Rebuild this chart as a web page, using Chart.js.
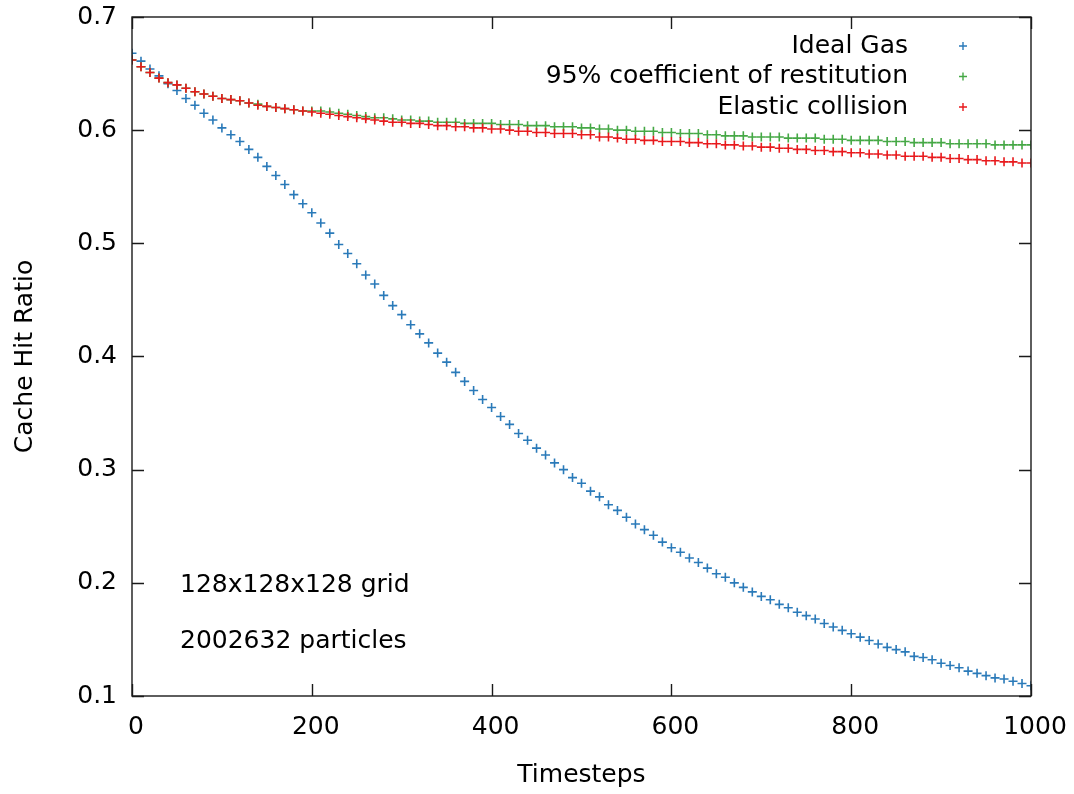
<!DOCTYPE html>
<html><head><meta charset="utf-8">
<script src="https://cdn.jsdelivr.net/npm/chart.js@4.4.1/dist/chart.umd.min.js"></script>
<style>html,body{margin:0;padding:0;background:#fff}#wrap{width:1074px;height:794px}</style>
</head><body><div id="wrap"><canvas id="c" width="1074" height="794"></canvas></div>
<script>
const timesteps = [
  0,10,20,30,40,50,60,70,80,90,
  100,110,120,130,140,150,160,170,180,190,
  200,210,220,230,240,250,260,270,280,290,
  300,310,320,330,340,350,360,370,380,390,
  400,410,420,430,440,450,460,470,480,490,
  500,510,520,530,540,550,560,570,580,590,
  600,610,620,630,640,650,660,670,680,690,
  700,710,720,730,740,750,760,770,780,790,
  800,810,820,830,840,850,860,870,880,890,
  900,910,920,930,940,950,960,970,980,990,
  1000];
const idealGas = [
  0.668,0.661,0.654,0.648,0.641,0.635,0.628,0.622,0.615,0.609,
  0.602,0.596,0.590,0.583,0.576,0.568,0.560,0.552,0.543,0.535,
  0.527,0.518,0.509,0.499,0.491,0.482,0.472,0.464,0.454,0.445,
  0.437,0.428,0.420,0.412,0.403,0.395,0.386,0.378,0.370,0.362,
  0.355,0.347,0.340,0.332,0.326,0.319,0.313,0.306,0.300,0.293,
  0.288,0.281,0.276,0.269,0.264,0.258,0.252,0.247,0.242,0.236,
  0.231,0.227,0.222,0.218,0.213,0.208,0.205,0.200,0.196,0.192,
  0.188,0.185,0.181,0.178,0.174,0.171,0.168,0.164,0.161,0.158,
  0.155,0.152,0.149,0.146,0.143,0.141,0.139,0.135,0.134,0.132,
  0.129,0.127,0.125,0.122,0.120,0.118,0.116,0.115,0.113,0.111,
  0.109];
const restitution95 = [
  0.662,0.656,0.651,0.646,0.642,0.640,0.637,0.634,0.632,0.630,
  0.628,0.627,0.626,0.624,0.623,0.621,0.620,0.619,0.618,0.617,
  0.617,0.617,0.616,0.615,0.614,0.613,0.612,0.611,0.611,0.610,
  0.609,0.609,0.608,0.608,0.607,0.607,0.607,0.606,0.606,0.606,
  0.606,0.605,0.605,0.605,0.604,0.604,0.604,0.603,0.603,0.603,
  0.602,0.602,0.601,0.601,0.600,0.600,0.599,0.599,0.599,0.598,
  0.598,0.597,0.597,0.597,0.596,0.596,0.595,0.595,0.595,0.594,
  0.594,0.594,0.594,0.593,0.593,0.593,0.593,0.592,0.592,0.592,
  0.591,0.591,0.591,0.591,0.590,0.590,0.590,0.589,0.589,0.589,
  0.589,0.588,0.588,0.588,0.588,0.588,0.587,0.587,0.587,0.587,
  0.587];
const elastic = [
  0.662,0.656,0.651,0.646,0.642,0.640,0.637,0.634,0.632,0.630,
  0.628,0.627,0.626,0.624,0.622,0.621,0.620,0.619,0.618,0.617,
  0.616,0.615,0.614,0.613,0.612,0.611,0.610,0.609,0.608,0.607,
  0.607,0.606,0.606,0.605,0.604,0.604,0.603,0.603,0.602,0.602,
  0.601,0.601,0.600,0.599,0.599,0.598,0.598,0.597,0.597,0.597,
  0.596,0.596,0.594,0.594,0.593,0.592,0.592,0.591,0.591,0.590,
  0.590,0.590,0.589,0.589,0.588,0.588,0.587,0.587,0.586,0.586,
  0.585,0.585,0.584,0.584,0.583,0.583,0.582,0.582,0.581,0.581,
  0.580,0.580,0.579,0.579,0.578,0.578,0.577,0.577,0.577,0.576,
  0.576,0.575,0.575,0.574,0.574,0.573,0.573,0.572,0.572,0.571,
  0.571];
const seriesLabels = ['Ideal Gas', '95% coefficient of restitution', 'Elastic collision'];
const seriesColors = ['#2a7ab9', '#45a845', '#e8191c'];
const xTickValues = [0, 200, 400, 600, 800, 1000];
const yTickValues = [0.1, 0.2, 0.3, 0.4, 0.5, 0.6, 0.7];
const xTitle = 'Timesteps';
const yTitle = 'Cache Hit Ratio';
const noteLines = ['128x128x128 grid', '2002632 particles'];

const FONT = "'DejaVu Sans', sans-serif";
const FS = 25;

function toPoints(values) {
  return values.map((v, i) => ({ x: timesteps[i], y: v }));
}

const frameAndExtras = {
  id: 'frameAndExtras',
  afterDatasetsDraw(chart) {
    const { ctx, chartArea: a, scales: { x, y } } = chart;
    ctx.save();
    ctx.strokeStyle = '#1a1a1a';
    ctx.lineWidth = 1.4;
    ctx.strokeRect(a.left, a.top, a.right - a.left, a.bottom - a.top);
    const L = 12;
    ctx.beginPath();
    xTickValues.forEach(v => {
      const px = Math.round(x.getPixelForValue(v)) + 0.5;
      ctx.moveTo(px, a.bottom); ctx.lineTo(px, a.bottom - L);
      ctx.moveTo(px, a.top); ctx.lineTo(px, a.top + L);
    });
    yTickValues.forEach(v => {
      const py = Math.round(y.getPixelForValue(v)) + 0.5;
      ctx.moveTo(a.left, py); ctx.lineTo(a.left + L, py);
      ctx.moveTo(a.right, py); ctx.lineTo(a.right - L, py);
    });
    ctx.stroke();

    ctx.font = FS + 'px ' + FONT;
    ctx.textAlign = 'right';
    ctx.textBaseline = 'middle';
    const textRight = a.right - 123;
    const markX = a.right - 68;
    chart.data.datasets.forEach((ds, i) => {
      const yy = a.top + 29 + i * 30.5;
      ctx.fillStyle = '#000';
      ctx.fillText(ds.label, textRight, yy);
      ctx.strokeStyle = ds.pointBorderColor;
      ctx.fillStyle = ds.pointBorderColor;
      Chart.helpers.drawPoint(ctx, { pointStyle: 'cross', radius: 4, borderWidth: 1.4, rotation: 0 }, markX, yy);
    });

    ctx.fillStyle = '#000';
    ctx.textAlign = 'left';
    ctx.textBaseline = 'middle';
    noteLines.forEach((t, i) => {
      ctx.fillText(t, a.left + 48, 585 + i * 56);
    });
    ctx.restore();
  }
};

const mk = (label, values, color, order) => ({
  label, data: toPoints(values), order,
  showLine: false,
  pointStyle: 'cross',
  pointRadius: 4.5,
  pointHoverRadius: 4.5,
  pointBorderWidth: 1.6,
  pointBorderColor: color,
  pointBackgroundColor: color
});

new Chart(document.getElementById('c'), {
  type: 'scatter',
  data: {
    datasets: [
      mk(seriesLabels[0], idealGas, seriesColors[0], 2),
      mk(seriesLabels[1], restitution95, seriesColors[1], 1),
      mk(seriesLabels[2], elastic, seriesColors[2], 0)
    ]
  },
  options: {
    responsive: false,
    animation: false,
    events: [],
    layout: { padding: { top: 17, right: 43, left: 0, bottom: 0 } },
    plugins: { legend: { display: false }, tooltip: { enabled: false } },
    scales: {
      x: {
        type: 'linear', min: 0, max: 1000,
        afterFit(s) { s.height = 98; },
        afterBuildTicks(s) { s.ticks = xTickValues.map(v => ({ value: v })); },
        grid: { display: false, drawTicks: false },
        border: { display: false },
        ticks: { font: { family: FONT, size: FS, lineHeight: 2.52 }, color: '#000', padding: 0, labelOffset: 4, maxRotation: 0, autoSkip: false, callback: v => String(v) },
        title: { display: true, text: xTitle, font: { family: FONT, size: FS }, color: '#000', padding: { top: 0, bottom: 4 } }
      },
      y: {
        type: 'linear', min: 0.1, max: 0.7,
        afterFit(s) { s.width = 132; },
        afterBuildTicks(s) { s.ticks = yTickValues.map(v => ({ value: v })); },
        grid: { display: false, drawTicks: false },
        border: { display: false },
        ticks: { font: { family: FONT, size: FS, lineHeight: 0.05 }, color: '#000', padding: 15, callback: v => v.toFixed(1) },
        title: { display: true, text: yTitle, font: { family: FONT, size: FS }, color: '#000', padding: { top: 10, bottom: 0 } }
      }
    }
  },
  plugins: [frameAndExtras]
});
</script>
</body></html>
